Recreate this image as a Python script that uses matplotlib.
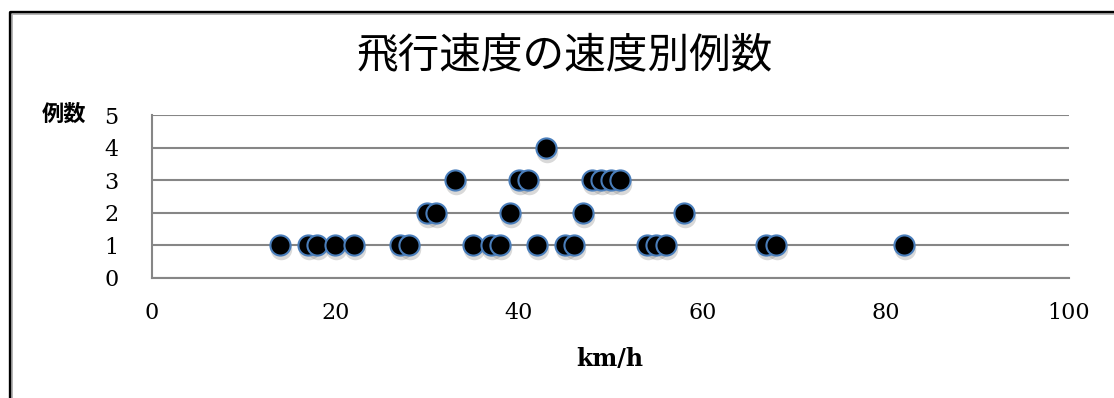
import matplotlib.pyplot as plt
import matplotlib.transforms as mtransforms
from matplotlib.lines import Line2D

# speed (km/h) and number of cases at that speed
speeds = [14, 17, 18, 20, 22, 27, 28, 30, 31, 33, 35, 37, 38, 39, 40, 41,
          42, 43, 45, 46, 47, 48, 49, 50, 51, 54, 55, 56, 58, 67, 68, 82]
counts = [1, 1, 1, 1, 1, 1, 1, 2, 2, 3, 1, 1, 1, 2, 3, 3,
          1, 4, 1, 1, 2, 3, 3, 3, 3, 1, 1, 1, 2, 1, 1, 1]

x_ticks = [0, 20, 40, 60, 80, 100]
y_ticks = [0, 1, 2, 3, 4, 5]

title = "飛行速度の速度別例数"
x_label = "km/h"
y_label = "例数"

serif = ["DejaVu Serif"]
jp = ["Noto Sans CJK JP", "DejaVu Sans"]

fig = plt.figure(figsize=(11.14, 3.98), dpi=100)
W, H = 1114, 398

# outer frame: only the left and top edges fall inside the picture
fx, fy = 9.5 / W, 1 - 11.5 / H
fig.lines.append(Line2D([fx, fx, 1.0], [0.0, fy, fy], transform=fig.transFigure,
                        color="black", linewidth=2.4))
fig.lines.append(Line2D([fx + 2.5 / W, fx + 2.5 / W, 1.0],
                        [0.0, fy - 2.5 / H, fy - 2.5 / H],
                        transform=fig.transFigure, color="#b0b0b0", linewidth=1.2))

ax = fig.add_axes([152 / W, 1 - 278 / H, (1069 - 152) / W, (278 - 115) / H])
ax.set_xlim(0, 100)
ax.set_ylim(0, 5)

ax.set_xticks(x_ticks)
ax.set_yticks(y_ticks)
ax.set_xticklabels([str(v) for v in x_ticks], family=serif, fontsize=16)
ax.set_yticklabels([str(v) for v in y_ticks], family=serif, fontsize=16)
ax.tick_params(length=0, pad=17, axis="x")
ax.tick_params(length=0, pad=24, axis="y")

for s in ["top", "right"]:
    ax.spines[s].set_visible(False)
for s in ["left", "bottom"]:
    ax.spines[s].set_color("#868686")
    ax.spines[s].set_linewidth(1.5)
ax.yaxis.grid(True, color="#868686", linewidth=1.5)
ax.set_axisbelow(True)

# soft shadow, then the markers themselves
shadow = mtransforms.offset_copy(ax.transData, fig=fig, x=1, y=-4, units="dots")
ax.scatter(speeds, counts, s=240, color="#555555", alpha=0.22,
           linewidths=0, transform=shadow, zorder=2)
for x, y in zip(speeds, counts):
    ax.plot(x, y, "o", markersize=14.5, markerfacecolor="black",
            markeredgecolor="#4a7ebb", markeredgewidth=1.5, zorder=3)

fig.text(565 / W, 1 - 57 / H, title, family=jp, fontsize=30,
         ha="center", va="center")
fig.text(64 / W, 1 - 114 / H, y_label, family=jp, fontsize=16,
         fontweight="bold", ha="center", va="center")
fig.text(610 / W, 1 - 359 / H, x_label, family=serif, fontsize=17,
         fontweight="bold", ha="center", va="center")

fig.savefig("out.png", dpi=100)
